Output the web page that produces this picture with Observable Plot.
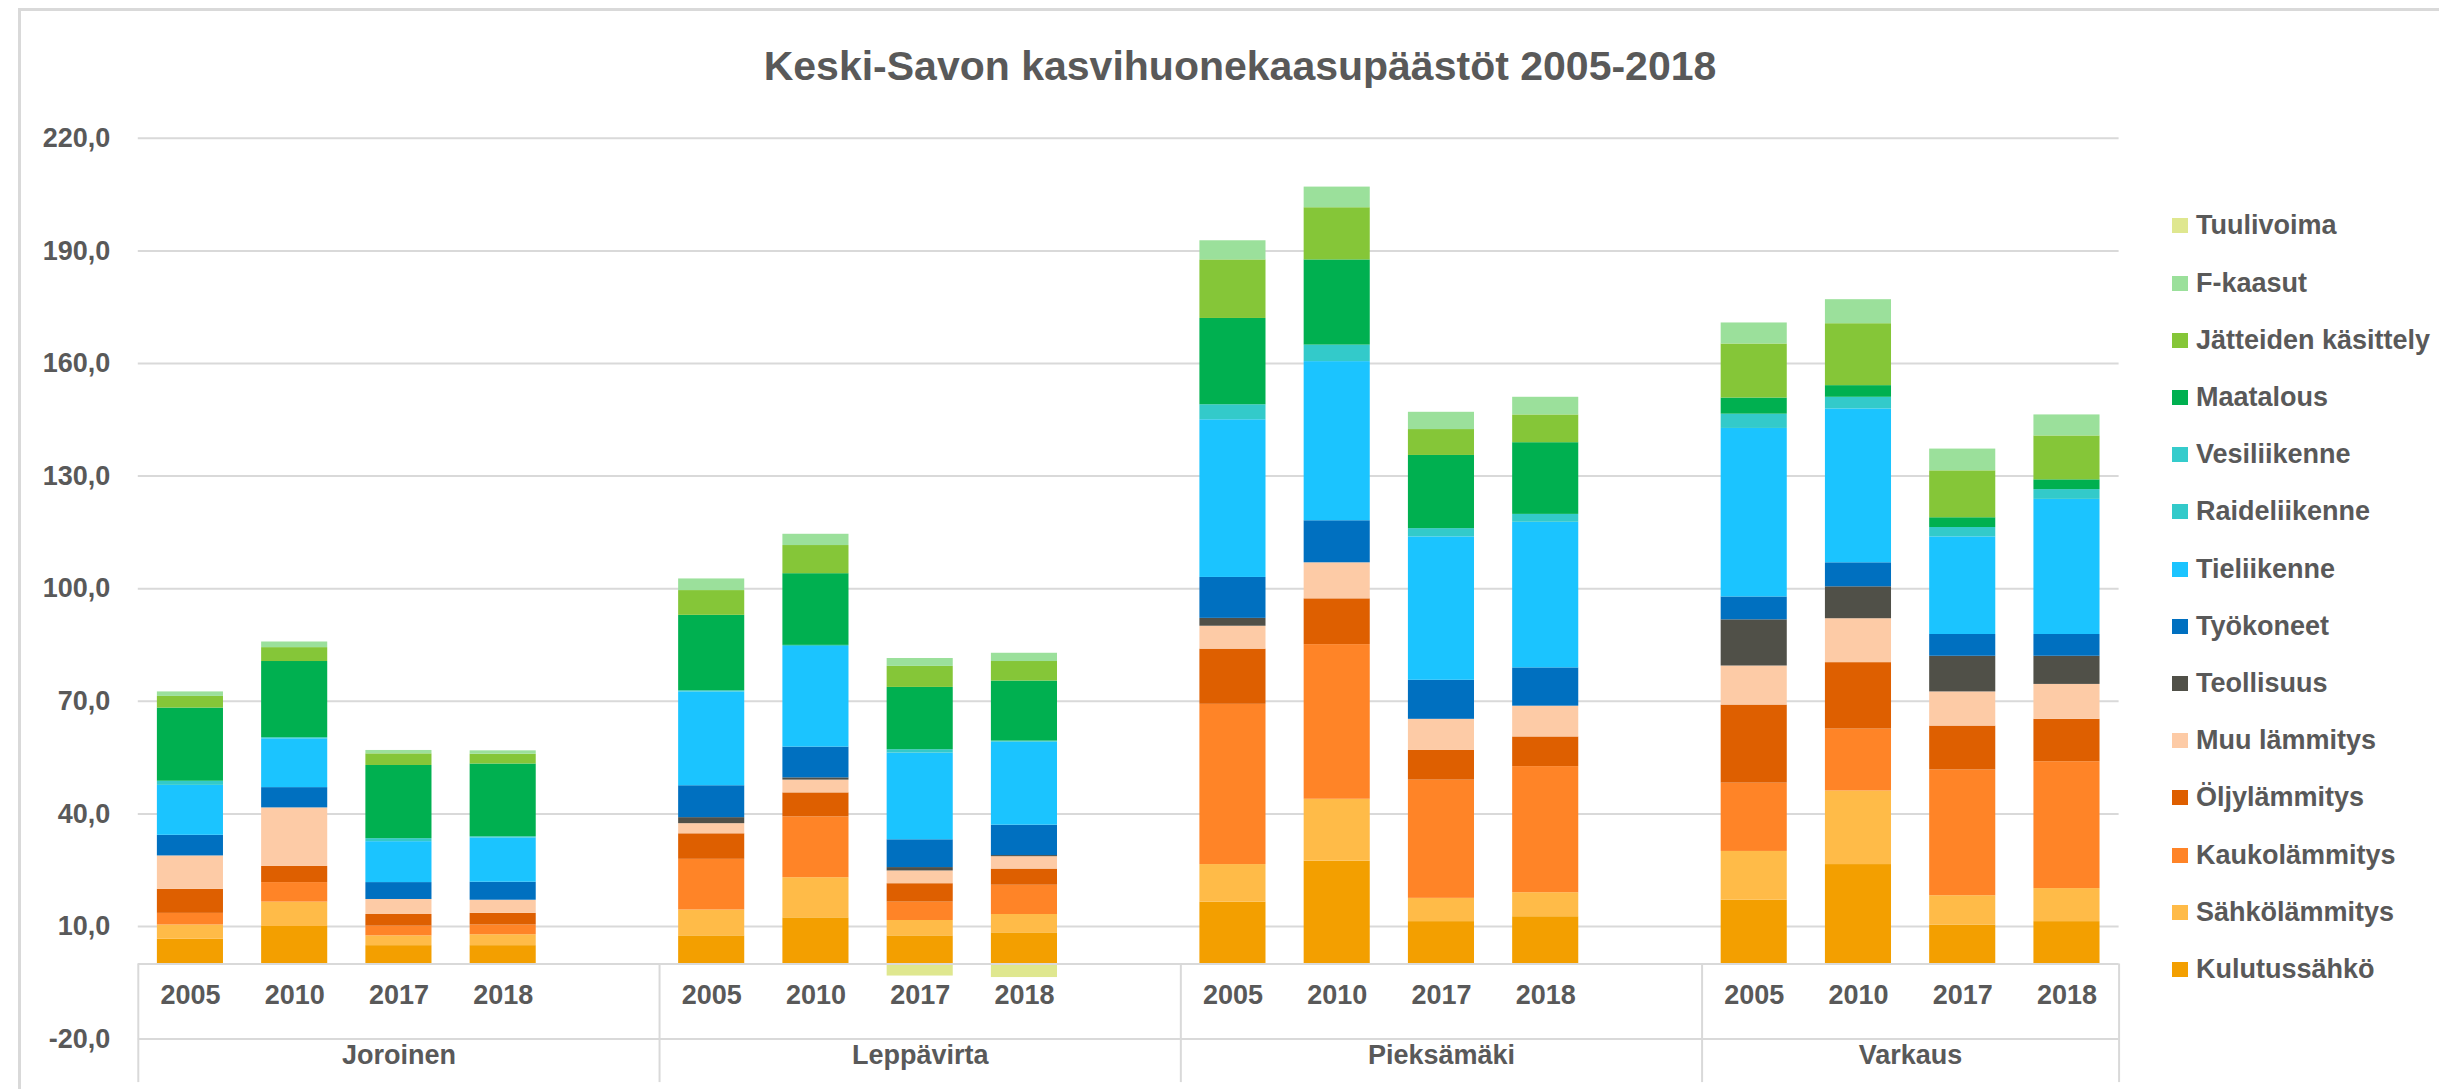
<!DOCTYPE html>
<html><head><meta charset="utf-8">
<script src="https://cdn.jsdelivr.net/npm/d3@7"></script>
<script src="https://cdn.jsdelivr.net/npm/@observablehq/plot@0.6"></script>
<style>
html,body{margin:0;padding:0;background:#fff;}
body{width:2439px;height:1089px;position:relative;overflow:hidden;font-family:"Liberation Sans",Arial,sans-serif;color:#595959;}
#frame{position:absolute;left:18px;top:8px;width:2600px;height:1200px;border:3px solid #d9d9d9;box-sizing:border-box;}
#title{position:absolute;left:0;top:46px;width:2480px;text-align:center;font-size:41px;line-height:41px;font-weight:700;}
#chart{position:absolute;left:0;top:110px;}
#legend{position:absolute;left:2172px;top:197.4px;}
.row{display:flex;align-items:center;height:57.2px;font-size:27px;font-weight:700;white-space:nowrap;}
.sw{width:16px;height:15px;margin-right:8px;flex:none;}
</style></head>
<body>
<div id="frame"></div>
<div id="title">Keski-Savon kasvihuonekaasupäästöt 2005-2018</div>
<div id="chart"></div>
<div id="legend"></div>
<script>
// ---- data ----
const municipalities = ["Joroinen", "Leppävirta", "Pieksämäki", "Varkaus"];
const years = ["2005", "2010", "2017", "2018"];
// stack order, bottom -> top
const sectors = ["Kulutussähkö", "Sähkölämmitys", "Kaukolämmitys", "Öljylämmitys", "Muu lämmitys",
  "Teollisuus", "Työkoneet", "Tieliikenne", "Raideliikenne", "Vesiliikenne", "Maatalous",
  "Jätteiden käsittely", "F-kaasut", "Tuulivoima"];
// values in order J05 J10 J17 J18, L05 L10 L17 L18, P05 P10 P17 P18, V05 V10 V17 V18
const kulutussahko   = [6.6, 10.0, 4.9, 4.9,  7.5, 12.3, 7.5, 8.3,  16.5, 27.4, 11.3, 12.6,  17.0, 26.5, 10.4, 11.3];
const sahkolammitys  = [3.8, 6.5, 2.6, 2.9,   6.9, 10.7, 4.1, 4.9,  10.0, 16.5, 6.2, 6.4,    13.0, 19.6, 7.8, 8.8];
const kaukolammitys  = [3.1, 5.2, 2.6, 2.6,   13.5, 16.2, 4.9, 7.8, 42.7, 41.2, 31.5, 33.6,  18.2, 16.5, 33.5, 33.8];
const oljylammitys   = [6.4, 4.3, 3.1, 3.1,   6.8, 6.4, 4.9, 4.3,   14.7, 12.2, 7.9, 7.9,    20.8, 17.7, 11.7, 11.3];
const muuLammitys    = [8.9, 15.6, 4.0, 3.5,  2.7, 3.4, 3.4, 3.3,   6.1, 9.6, 8.3, 8.2,      10.4, 11.7, 9.1, 9.3];
const teollisuus     = [0, 0, 0, 0,           1.6, 0.6, 0.9, 0.3,   2.1, 0, 0, 0,            12.3, 8.5, 9.5, 7.5];
const tyokoneet      = [5.5, 5.4, 4.5, 4.8,   8.5, 8.2, 7.4, 8.1,   10.9, 11.2, 10.4, 10.2,  6.1, 6.4, 5.8, 5.8];
const tieliikenne    = [13.3, 13.0, 10.9, 11.8, 25.0, 26.8, 23.1, 22.1, 42.0, 42.4, 38.2, 38.8, 44.9, 41.0, 26.0, 36.0];
const raideliikenne  = [1.1, 0.3, 0.8, 0.3,   0.3, 0.3, 0.9, 0.3,   4.0, 4.4, 2.2, 2.1,      3.8, 3.1, 2.5, 2.6];
const vesiliikenne   = [0, 0, 0, 0,           0, 0, 0, 0,           0, 0, 0, 0,              0, 0, 0, 0];
const maatalous      = [19.5, 20.3, 19.5, 19.4, 20.1, 19.1, 16.6, 16.0, 23.0, 22.7, 19.5, 19.1, 4.3, 3.1, 2.6, 2.6];
const jatteet        = [3.1, 3.7, 3.1, 2.6,   6.6, 7.5, 5.6, 5.2,   15.6, 13.9, 6.9, 7.4,    14.4, 16.5, 12.5, 11.7];
const fKaasut        = [1.2, 1.5, 0.9, 0.9,   3.1, 3.0, 2.1, 2.2,   5.1, 5.5, 4.6, 4.7,      5.6, 6.4, 5.8, 5.6];
const tuulivoima     = [0, 0, 0, 0,           0, 0, -3.2, -3.6,     0, 0, 0, 0,              0, 0, 0, 0];
const yTicks = [-20, 10, 40, 70, 100, 130, 160, 190, 220];

// ---- styles ----
const sectorColors = ["#f39f00", "#ffbb48", "#ff8427", "#de5f00", "#fdcba6", "#505048", "#0070c0",
  "#1bc4ff", "#33caca", "#35cccc", "#00b050", "#85c638", "#9be09b", "#dfe78f"];
const GRID = "#d9d9d9";
const BAR_PAD = 0.183;

// ---- table ----
const seriesValues = [kulutussahko, sahkolammitys, kaukolammitys, oljylammitys, muuLammitys, teollisuus,
  tyokoneet, tieliikenne, raideliikenne, vesiliikenne, maatalous, jatteet, fKaasut, tuulivoima];
const slotOf = (g, y) => g * (years.length + 1) + y;
const nSlots = municipalities.length * (years.length + 1) - 1;
const rows = [];
const yearSlots = [];
municipalities.forEach((m, g) => years.forEach((yr, yi) => {
  yearSlots.push({slot: slotOf(g, yi), year: yr});
  sectors.forEach((s, si) => {
    const v = seriesValues[si][g * years.length + yi];
    if (v !== 0) rows.push({municipality: m, year: yr, slot: slotOf(g, yi), sector: s, value: v});
  });
}));
const groups = municipalities.map((m, g) => ({name: m, start: slotOf(g, 0), end: Math.min(slotOf(g, years.length + 1), nSlots)}));
const dividers = [0, ...groups.map(d => d.end)];
const fmt = d => d.toFixed(1).replace(".", ",");

const chart = Plot.plot({
  width: 2160, height: 979,
  marginTop: 27.8, marginBottom: 50.4, marginLeft: 137.8, marginRight: 41.4,
  style: {fontFamily: "'Liberation Sans', Arial, sans-serif", fontSize: "27px", fontWeight: 700, color: "#595959", background: "transparent", overflow: "visible"},
  x: {domain: [0, nSlots], axis: null},
  y: {domain: [-20, 220], axis: null},
  color: {domain: sectors, range: sectorColors},
  marks: [
    Plot.gridY({ticks: yTicks, stroke: GRID, strokeOpacity: 1, strokeWidth: 2}),
    Plot.axisY({ticks: yTicks, tickSize: 0, tickPadding: 28, tickFormat: fmt, label: null, fontSize: 27, fontWeight: 700}),
    Plot.rectY(rows, {x1: d => d.slot + BAR_PAD, x2: d => d.slot + 1 - BAR_PAD, y: "value", fill: "sector", order: sectors}),
    Plot.ruleY([0], {stroke: GRID, strokeWidth: 2}),
    Plot.ruleX(dividers, {y1: 0, y2: -20, insetBottom: -43.5, stroke: GRID, strokeWidth: 2}),
    Plot.text(yearSlots, {x: d => d.slot + 0.5, text: "year", frameAnchor: "bottom", dy: -35.6, fontSize: 27, fontWeight: 700, fill: "#595959"}),
    Plot.text(groups, {x: d => (d.start + d.end) / 2, text: "name", frameAnchor: "bottom", dy: 24.4, fontSize: 27, fontWeight: 700, fill: "#595959"})
  ]
});
document.getElementById("chart").append(chart);

// legend (top -> bottom is reverse of stack order), colours from the chart's scale
const colorScale = chart.scale("color");
const legend = document.getElementById("legend");
sectors.slice().reverse().forEach(s => {
  const row = document.createElement("div");
  row.className = "row";
  const sw = document.createElement("div");
  sw.className = "sw";
  sw.style.background = colorScale.apply(s);
  const t = document.createElement("span");
  t.textContent = s;
  row.append(sw, t);
  legend.append(row);
});
</script>
</body></html>
